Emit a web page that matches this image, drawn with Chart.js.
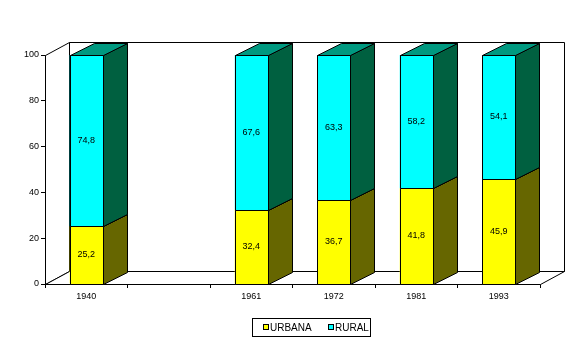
<!DOCTYPE html>
<html>
<head>
<meta charset="utf-8">
<script src="https://cdn.jsdelivr.net/npm/chart.js@4"></script>
<style>
    body { margin: 0; background: #fff; }
    #wrap { width: 587px; height: 341px; }
</style>
</head>
<body>
<div id="wrap"><canvas id="chart"></canvas></div>
<script>
// Data (population share, %)
const YEARS = ['1940', '', '1961', '1972', '1981', '1993'];
const URBANA = [25.2, null, 32.4, 36.7, 41.8, 45.9];
const RURAL = [74.8, null, 67.6, 63.3, 58.2, 54.1];
const Y_TICKS = [0, 20, 40, 60, 80, 100];

const COLORS = {
    urbana: '#ffff00',
    urbanaSide: '#666600',
    urbanaTop: '#999900',
    rural: '#00ffff',
    ruralSide: '#006040',
    ruralTop: '#009980',
};

const FONT = "'Liberation Sans', Arial, sans-serif";
const DX = 24;   // 3D depth offset
const DY = 12;
const WALL_DY = 13;

function poly(ctx, pts, fill) {
    ctx.beginPath();
    ctx.moveTo(pts[0][0], pts[0][1]);
    for (let i = 1; i < pts.length; i++) ctx.lineTo(pts[i][0], pts[i][1]);
    ctx.closePath();
    if (fill) {
        ctx.fillStyle = fill;
        ctx.fill();
    }
    ctx.stroke();
}

// back wall, side wall and floor
const wallsPlugin = {
    id: 'walls',
    beforeDatasetsDraw(chart) {
        const ctx = chart.ctx;
        const a = chart.chartArea;
        const l = Math.round(a.left) + 0.5, r = Math.round(a.right) + 0.5;
        const t = Math.round(chart.scales.y.getPixelForValue(100)) + 0.5;
        const b = Math.round(chart.scales.y.getPixelForValue(0)) + 0.5;
        ctx.save();
        ctx.strokeStyle = '#000';
        ctx.lineWidth = 1;
        poly(ctx, [[l + DX, t - WALL_DY], [r + DX, t - WALL_DY], [r + DX, b - WALL_DY], [l + DX, b - WALL_DY]], '#fff');
        poly(ctx, [[l, t], [l + DX, t - WALL_DY], [l + DX, b - WALL_DY], [l, b]], '#fff');
        poly(ctx, [[l, b], [l + DX, b - WALL_DY], [r + DX, b - WALL_DY], [r, b]], '#fff');
        ctx.restore();
    }
};

// 3D bars: front, side and top faces, then value labels
const bars3dPlugin = {
    id: 'bars3d',
    afterDatasetsDraw(chart) {
        const ctx = chart.ctx;
        ctx.save();
        ctx.strokeStyle = '#000';
        ctx.lineWidth = 1;
        const labels = [];
        chart.data.datasets.forEach((ds, di) => {
            const meta = chart.getDatasetMeta(di);
            meta.data.forEach((bar, i) => {
                if (ds.data[i] == null) return;
                const p = bar.getProps(['x', 'y', 'base', 'width'], true);
                const x0 = Math.round(p.x - p.width / 2) + 0.5;
                const x1 = Math.round(p.x + p.width / 2) + 0.5;
                const yt = Math.round(p.y) + 0.5;
                const yb = Math.round(p.base) + 0.5;
                poly(ctx, [[x0, yt], [x1, yt], [x1, yb], [x0, yb]], ds.backgroundColor);
                poly(ctx, [[x1, yt], [x1 + DX, yt - DY], [x1 + DX, yb - DY], [x1, yb]], ds.sideColor);
                poly(ctx, [[x0, yt], [x0 + DX, yt - DY], [x1 + DX, yt - DY], [x1, yt]], ds.topColor);
                labels.push([p.x, (p.y + p.base) / 2, ds.data[i].toFixed(1).replace('.', ',')]);
            });
        });
        ctx.fillStyle = '#000';
        ctx.font = '9px ' + FONT;
        ctx.textAlign = 'center';
        ctx.textBaseline = 'middle';
        for (const [x, y, txt] of labels) ctx.fillText(txt, x, y);
        ctx.restore();
    }
};

// boxed legend under the plot
const legendPlugin = {
    id: 'boxLegend',
    afterDraw(chart) {
        const ctx = chart.ctx;
        ctx.save();
        ctx.strokeStyle = '#000';
        ctx.lineWidth = 1;
        ctx.fillStyle = '#fff';
        ctx.fillRect(252.5, 318.5, 118, 18);
        ctx.strokeRect(252.5, 318.5, 118, 18);
        ctx.font = '10px ' + FONT;
        ctx.textBaseline = 'middle';
        let x = 263;
        chart.data.datasets.forEach(ds => {
            ctx.fillStyle = ds.backgroundColor;
            ctx.fillRect(x + 0.5, 324.5, 5, 5);
            ctx.strokeRect(x + 0.5, 324.5, 5, 5);
            ctx.fillStyle = '#000';
            ctx.fillText(ds.label, x + 7, 328);
            x += 65;
        });
        ctx.restore();
    }
};

const ctx = document.getElementById('chart').getContext('2d');
new Chart(ctx, {
    type: 'bar',
    data: {
        labels: YEARS,
        datasets: [
            {
                label: 'URBANA',
                data: URBANA,
                backgroundColor: COLORS.urbana,
                sideColor: COLORS.urbanaSide,
                topColor: COLORS.urbanaTop,
            },
            {
                label: 'RURAL',
                data: RURAL,
                backgroundColor: COLORS.rural,
                sideColor: COLORS.ruralSide,
                topColor: COLORS.ruralTop,
            }
        ]
    },
    options: {
        responsive: true,
        maintainAspectRatio: false,
        animation: false,
        events: [],
        categoryPercentage: 1,
        barPercentage: 0.4,
        layout: {
            padding: { left: 0, right: 47, top: 55, bottom: 0 }
        },
        plugins: {
            legend: { display: false },
            tooltip: { enabled: false }
        },
        scales: {
            x: {
                stacked: true,
                grid: {
                    drawOnChartArea: false,
                    drawTicks: true,
                    tickLength: 4,
                    color: '#000',
                    offset: true
                },
                border: { color: '#000' },
                ticks: {
                    color: '#000',
                    font: { family: FONT, size: 9 },
                    padding: 3,
                    maxRotation: 0,
                    autoSkip: false
                },
                afterFit(s) { s.height = 57; }
            },
            y: {
                stacked: true,
                min: 0,
                max: 100,
                afterBuildTicks(s) { s.ticks = Y_TICKS.map(v => ({ value: v })); },
                grid: {
                    drawOnChartArea: false,
                    tickLength: 4,
                    color: '#000'
                },
                border: { color: '#000' },
                ticks: {
                    color: '#000',
                    font: { family: FONT, size: 9 },
                    padding: 2
                },
                afterFit(s) { s.width = 45; }
            }
        }
    },
    plugins: [wallsPlugin, bars3dPlugin, legendPlugin]
});
</script>
</body>
</html>
